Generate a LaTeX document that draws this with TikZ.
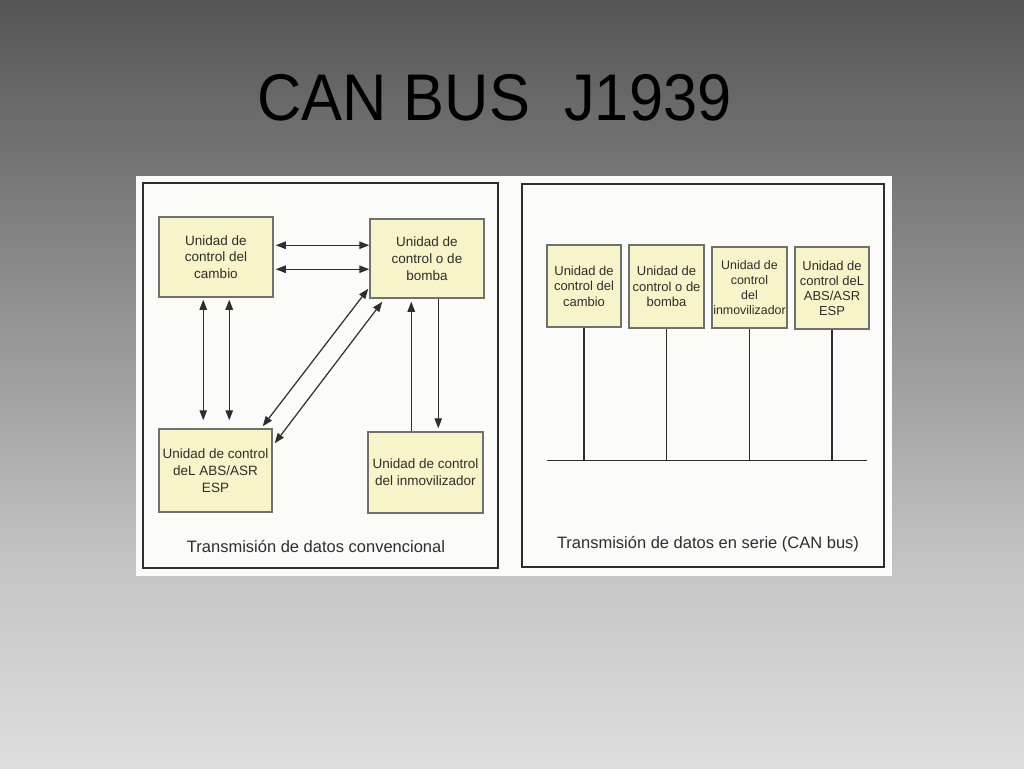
\documentclass[tikz,border=0pt]{standalone}
\usepackage{fontspec}
\setmainfont{Liberation Sans}
\usetikzlibrary{arrows.meta,calc}
\definecolor{bgtop}{HTML}{555555}
\definecolor{bgmid}{HTML}{C6C6C6}
\definecolor{bgbot}{HTML}{DEDEDE}
\definecolor{boxfill}{HTML}{F6F4C8}
\definecolor{boxline}{HTML}{707070}
\definecolor{ink}{HTML}{2E2E2E}
\definecolor{paper}{HTML}{FBFBFA}
\pgfdeclareverticalshading{slidebg}{100bp}{color(0bp)=(bgbot); color(25bp)=(bgbot); color(37.5bp)=(bgmid); color(75bp)=(bgtop); color(100bp)=(bgtop)}
\tikzset{
  unitbox/.style={draw=boxline, line width=1.5pt, fill=boxfill, inner sep=0pt,
    align=center, text=ink, font=\fontsize{13.5}{16.7}\selectfont},
  runitbox/.style={unitbox, font=\fontsize{13}{15.5}\selectfont},
  frame/.style={draw=ink, line width=1.5pt},
  biarrow/.style={draw=ink, line width=1.2pt, {Triangle[length=10pt,width=7.5pt]}-{Triangle[length=10pt,width=7.5pt]}},
  uniarrow/.style={draw=ink, line width=1.2pt, -{Triangle[length=10pt,width=7.5pt]}},
  busline/.style={draw=ink, line width=1.6pt},
  caption/.style={text=ink, font=\fontsize{16.5}{18}\selectfont}
}
\begin{document}
\begin{tikzpicture}[x=1pt,y=-1pt]
\useasboundingbox (0,0) rectangle (1024,768);
\shade[shading=slidebg] (0,0) rectangle (1024,768);
% title
\node[anchor=base, inner sep=0pt, text=black] (title) at (494.5,120)
  {\scalebox{0.93}[1]{\fontsize{66}{66}\selectfont CAN BUS\ \ J1939}};
% picture area
\fill[paper] (136,176) rectangle (892,576);
\draw[frame] (143,183) rectangle (498,568);
\draw[frame] (522,184) rectangle (884,567);
% left panel boxes
\node[unitbox, minimum width=114pt, minimum height=80pt] (cambio) at (216,257)
  {Unidad de\\control del\\cambio};
\node[unitbox, minimum width=114pt, minimum height=79pt] (bomba) at (427,258.5)
  {Unidad de\\control o de\\bomba};
\node[unitbox, minimum width=113pt, minimum height=83pt] (abs) at (215.5,470.5)
  {Unidad de control\\deL ABS/ASR\\ESP};
\node[unitbox, minimum width=115pt, minimum height=81pt] (inmov) at (425.5,472.5)
  {Unidad de control\\del inmovilizador};
% horizontal arrows
\draw[biarrow, shorten <=2pt] ([yshift=-29pt]cambio.north east) -- ([yshift=-29pt]cambio.north east -| bomba.west);
\draw[biarrow, shorten <=2pt] ([yshift=-53pt]cambio.north east) -- ([yshift=-53pt]cambio.north east -| bomba.west);
% vertical arrows cambio - abs
\draw[biarrow, shorten <=2pt, shorten >=8pt] ([xshift=45pt]cambio.south west) -- ([xshift=45pt]cambio.south west |- abs.north);
\draw[biarrow, shorten <=2pt, shorten >=8pt] ([xshift=71pt]cambio.south west) -- ([xshift=71pt]cambio.south west |- abs.north);
% diagonal arrows abs - bomba
\draw[biarrow] ([xshift=-10pt,yshift=2pt]abs.north east) -- ([xshift=-1pt,yshift=10pt]bomba.south west);
\draw[biarrow] ([xshift=2pt,yshift=-15pt]abs.north east) -- ([xshift=13pt,yshift=-3pt]bomba.south west);
% bomba - inmovilizador
\draw[uniarrow, shorten >=3pt] ([xshift=44pt]inmov.north west) -- ([xshift=44pt]inmov.north west |- bomba.south);
\draw[uniarrow, shorten >=3pt] ([xshift=69pt]bomba.south west) -- ([xshift=69pt]bomba.south west |- inmov.north);
\node[caption] (capL) at (316,546) {Transmisión de datos convencional};
% right panel boxes
\node[runitbox, minimum width=74pt, minimum height=82pt] (r1) at (584,286) {Unidad de\\control del\\cambio};
\node[runitbox, minimum width=75pt, minimum height=83pt] (r2) at (666.5,286.5) {Unidad de\\control o de\\bomba};
\node[runitbox, minimum width=75pt, minimum height=81pt, font=\fontsize{12.4}{15}\selectfont] (r3) at (749.5,287.5) {Unidad de\\control\\del\\inmovilizador};
\node[runitbox, minimum width=74pt, minimum height=82pt, font=\fontsize{13}{15}\selectfont] (r4) at (832,288) {Unidad de\\control deL\\ABS/ASR\\ESP};
\coordinate (busL) at (547,460.5);
\coordinate (busR) at (867,460.5);
\draw[busline] (busL) -- (busR);
\foreach \n in {r1,r2,r3,r4}{
  \draw[busline] (\n.south) -- (\n.south |- busL);
}
\node[caption] (capR) at (708,544) {Transmisión de datos en serie (CAN bus)};
\end{tikzpicture}
\end{document}
